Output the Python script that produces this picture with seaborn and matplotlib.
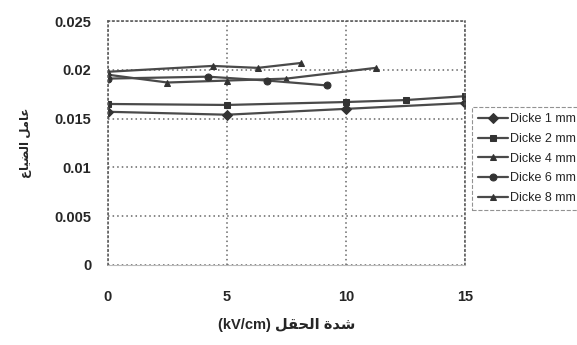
import matplotlib
matplotlib.use("Agg")
import matplotlib.pyplot as plt
import seaborn as sns
import pandas as pd

# Dicke series (x in kV/cm, y = loss factor)
x_d1 = [0, 5, 10, 15]
y_d1 = [0.0157, 0.0154, 0.0160, 0.0166]
x_d2 = [0, 5, 10, 12.5, 15]
y_d2 = [0.0165, 0.0164, 0.0167, 0.0169, 0.0173]
x_d4 = [0, 2.5, 5, 7.5, 11.25]
y_d4 = [0.0195, 0.0187, 0.0189, 0.0191, 0.0202]
x_d6 = [0, 4.2, 6.7, 9.2]
y_d6 = [0.0191, 0.0193, 0.0189, 0.0184]
x_d8 = [0, 4.4, 6.3, 8.1]
y_d8 = [0.0198, 0.0204, 0.0202, 0.0207]

labels = ["Dicke 1 mm", "Dicke 2 mm", "Dicke 4 mm", "Dicke 6 mm", "Dicke 8 mm"]
markers = ["D", "s", "^", "o", "^"]
x_ticks = [0, 5, 10, 15]
y_ticks = [0, 0.005, 0.01, 0.015, 0.02, 0.025]
y_ticklabels = ["0", "0.005", "0.01", "0.015", "0.02", "0.025"]

# Arabic text in presentation forms, visual order (matplotlib has no shaping)
ylabel_ar = "\uFEC9\uFE8E\uFEF4\uFEC0\uFEDF\uFE8D \uFEDE\uFEE3\uFE8E\uFECB"
xlabel_ar = "(kV/cm) \uFEDE\uFED8\uFEA4\uFEDF\uFE8D \uFE93\uFEAA\uFEB7"

sns.set_style("white")
plt.rcParams["font.family"] = ["Liberation Sans", "DejaVu Sans"]

frames = []
for lab, xs, ys in zip(labels, [x_d1, x_d2, x_d4, x_d6, x_d8],
                       [y_d1, y_d2, y_d4, y_d6, y_d8]):
    frames.append(pd.DataFrame({"x": xs, "y": ys, "series": lab}))
df = pd.concat(frames, ignore_index=True)

fig = plt.figure(figsize=(5.77, 3.45), dpi=100)
ax = fig.add_axes([0.187, 0.232, 0.619, 0.707])

line_color = "#4a4a4a"
for lab, mk in zip(labels, markers):
    sub = df[df["series"] == lab]
    sns.lineplot(data=sub, x="x", y="y", ax=ax, color=line_color, marker=mk,
                 markersize=5, markeredgecolor="#333333", markerfacecolor="#333333",
                 linewidth=1.6, label=lab, sort=False, legend=False)

ax.set_xlim(0, 15)
ax.set_ylim(0, 0.025)
ax.set_xticks(x_ticks)
ax.set_yticks(y_ticks)
ax.set_yticklabels(y_ticklabels)
ax.tick_params(axis="x", length=0, pad=18, labelsize=10.5)
ax.tick_params(axis="y", length=0, pad=12, labelsize=10.5)
for t in ax.get_xticklabels() + ax.get_yticklabels():
    t.set_fontweight("bold")

dots = (0, (1, 2))
ax.grid(True, linestyle=dots, color="#666666", linewidth=1.1)
for s in ["top", "right", "left"]:
    ax.spines[s].set_visible(True)
    ax.spines[s].set_linestyle(dots)
    ax.spines[s].set_color("#555555")
    ax.spines[s].set_linewidth(1.1)
ax.spines["bottom"].set_color("#bbbbbb")
ax.spines["bottom"].set_linewidth(0.8)

ax.set_xlabel(xlabel_ar, fontsize=10.5, fontweight="bold", labelpad=10)
ax.set_ylabel(ylabel_ar, fontsize=8.5, fontweight="bold", labelpad=16)

handles, _ = ax.get_legend_handles_labels()
leg = fig.legend(handles, labels, loc="upper left", bbox_to_anchor=(0.818, 0.69),
                 fontsize=9, frameon=True, fancybox=False, handlelength=2.4,
                 labelspacing=0.62, borderpad=0.5, handletextpad=0.15,
                 borderaxespad=0)
leg.get_frame().set_edgecolor("#777777")
leg.get_frame().set_linewidth(0.8)
leg.get_frame().set_linestyle("--")

fig.savefig("out.png", dpi=100, facecolor="white")
